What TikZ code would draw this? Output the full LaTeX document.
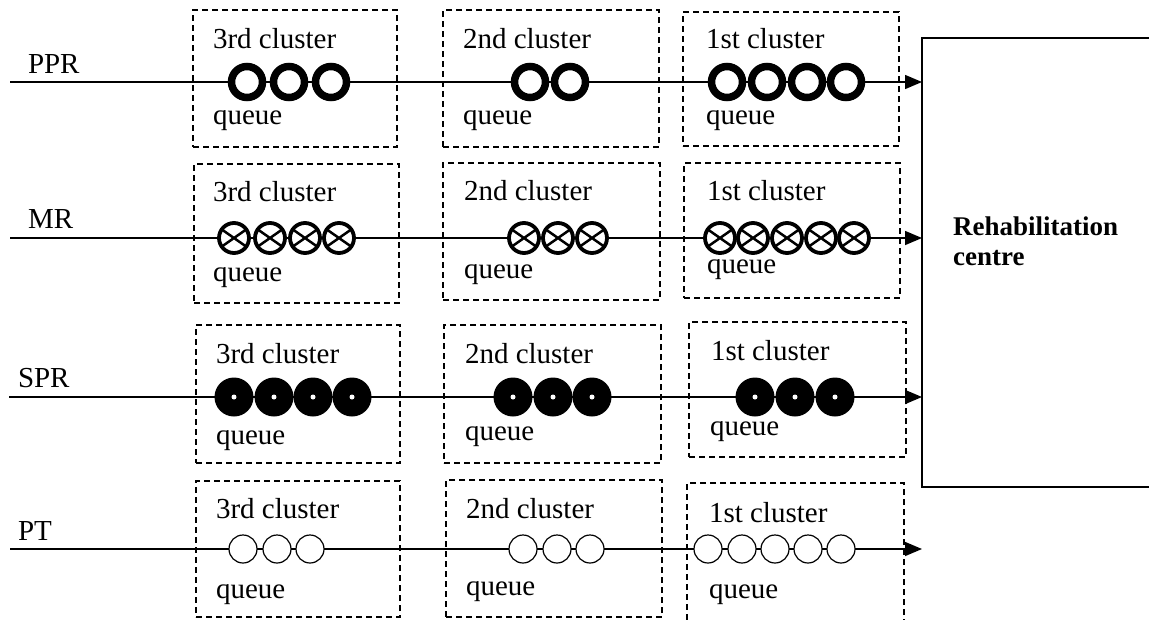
\documentclass[tikz,border=0pt]{standalone}
\usepackage{fontspec}
\setmainfont{Liberation Serif}
\usetikzlibrary{arrows.meta}
\newcommand\qbox[5]{\node[dbox, minimum width={(#4-#2)*1pt}, minimum height={(#5-#3)*1pt}] (#1) at (#2,#3) {};}
\begin{document}
\begin{tikzpicture}[x=1pt,y=-1pt,
 txt/.style={font=\fontsize{29}{31}\selectfont, inner sep=0pt, outer sep=0pt, anchor=base west},
 dbox/.style={draw, dash pattern=on 6pt off 4pt, line width=1.4pt, anchor=north west, inner sep=0pt, outer sep=0pt},
 flow/.style={line width=1.5pt, -{Triangle[length=17pt,width=14pt]}},
 pprc/.style={circle, draw, line width=7.5pt, fill=white, minimum size=31pt, inner sep=0pt, outer sep=0pt},
 mrc/.style={circle, draw, line width=3.8pt, fill=white, minimum size=30pt, inner sep=0pt, outer sep=0pt},
 sprc/.style={circle, fill=black, minimum size=39pt, inner sep=0pt, outer sep=0pt, path picture={\fill[white] (path picture bounding box.center) circle[radius=2.5pt];}},
 ptc/.style={circle, draw, line width=1.2pt, fill=white, minimum size=28pt, inner sep=0pt, outer sep=0pt},
]
\useasboundingbox (0,0) rectangle (1149,619);
% rehabilitation centre
\node[anchor=north west, minimum width=227pt, minimum height=449pt, inner sep=0pt, outer sep=0pt] (rc) at (922,38) {};
\draw[line width=2pt] (rc.north east) -- (rc.north west) -- (rc.south west) -- (rc.south east);
\node[font=\fontsize{27}{30}\selectfont\bfseries, anchor=base west, align=left, inner sep=0pt] (rct) at (953,265) {Rehabilitation\\centre};
% dashed cluster boxes
\qbox{A3}{193}{10}{397}{147}
\qbox{A2}{443}{10}{659}{147}
\qbox{A1}{683}{12}{899}{146}
\qbox{B3}{194}{164}{399}{303}
\qbox{B2}{443}{163}{660}{300}
\qbox{B1}{684}{163}{900}{298}
\qbox{C3}{196}{325}{400}{463}
\qbox{C2}{444}{325}{661}{463}
\qbox{C1}{689}{322}{906}{457}
\qbox{D3}{196}{481}{400}{617}
\qbox{D2}{446}{480}{662}{617}
\qbox{D1}{687}{483}{904}{628}
% flow lines
\coordinate (sA) at (10,82);
\coordinate (sB) at (10,238);
\coordinate (sC) at (9,397);
\coordinate (sD) at (10,549);
\draw[flow] (sA) -- (sA -| rc.west);
\draw[flow] (sB) -- (sB -| rc.west);
\draw[flow] (sC) -- (sC -| rc.west);
\draw[flow] (sD) -- (sD -| rc.west);
% labels
\node[txt] (lA) at (28,73) {PPR};
\node[txt] (lB) at (28,228) {MR};
\node[txt] (lC) at (18,387) {SPR};
\node[txt] (lD) at (18,540) {PT};
% headers and queue labels
\node[txt] (hA3) at (213,48) {3rd cluster};
\node[txt] (hA2) at (463,48) {2nd cluster};
\node[txt] (hA1) at (706,48) {1st cluster};
\node[txt] (qA3) at (213,124) {queue};
\node[txt] (qA2) at (463,124) {queue};
\node[txt] (qA1) at (706,124) {queue};
\node[txt] (hB3) at (213,201) {3rd cluster};
\node[txt] (hB2) at (464,200) {2nd cluster};
\node[txt] (hB1) at (707,200) {1st cluster};
\node[txt] (qB3) at (213,281) {queue};
\node[txt] (qB2) at (464,278) {queue};
\node[txt] (qB1) at (707,273) {queue};
\node[txt] (hC3) at (216,363) {3rd cluster};
\node[txt] (hC2) at (465,363) {2nd cluster};
\node[txt] (hC1) at (711,360) {1st cluster};
\node[txt] (qC3) at (216,444) {queue};
\node[txt] (qC2) at (465,440) {queue};
\node[txt] (qC1) at (710,435) {queue};
\node[txt] (hD3) at (216,518) {3rd cluster};
\node[txt] (hD2) at (466,518) {2nd cluster};
\node[txt] (hD1) at (709,522) {1st cluster};
\node[txt] (qD3) at (216,598) {queue};
\node[txt] (qD2) at (466,595) {queue};
\node[txt] (qD1) at (709,598) {queue};
% PPR circles
\foreach \x [count=\i] in {247,289,331} \node[pprc] (pA3-\i) at (\x,82) {};
\foreach \x [count=\i] in {530,570} \node[pprc] (pA2-\i) at (\x,82) {};
\foreach \x [count=\i] in {727,767,807,846} \node[pprc] (pA1-\i) at (\x,82) {};
% MR circles
\foreach \x [count=\i] in {234,270,305,339} {\node[mrc] (pB3-\i) at (\x,238) {};
  \draw[line width=2.5pt] (pB3-\i.35) -- (pB3-\i.215) (pB3-\i.145) -- (pB3-\i.325);}
\foreach \x [count=\i] in {524,558,592} {\node[mrc] (pB2-\i) at (\x,238) {};
  \draw[line width=2.5pt] (pB2-\i.35) -- (pB2-\i.215) (pB2-\i.145) -- (pB2-\i.325);}
\foreach \x [count=\i] in {720,753,787,821,854} {\node[mrc] (pB1-\i) at (\x,238) {};
  \draw[line width=2.5pt] (pB1-\i.35) -- (pB1-\i.215) (pB1-\i.145) -- (pB1-\i.325);}
% SPR circles
\foreach \x [count=\i] in {234,274,313,352} \node[sprc] (pC3-\i) at (\x,397) {};
\foreach \x [count=\i] in {513,553,592} \node[sprc] (pC2-\i) at (\x,397) {};
\foreach \x [count=\i] in {755,795,835} \node[sprc] (pC1-\i) at (\x,397) {};
% PT circles
\foreach \x [count=\i] in {243,277,310} \node[ptc] (pD3-\i) at (\x,549) {};
\foreach \x [count=\i] in {523,557,590} \node[ptc] (pD2-\i) at (\x,549) {};
\foreach \x [count=\i] in {708,742,775,808,841} \node[ptc] (pD1-\i) at (\x,549) {};
\end{tikzpicture}
\end{document}
